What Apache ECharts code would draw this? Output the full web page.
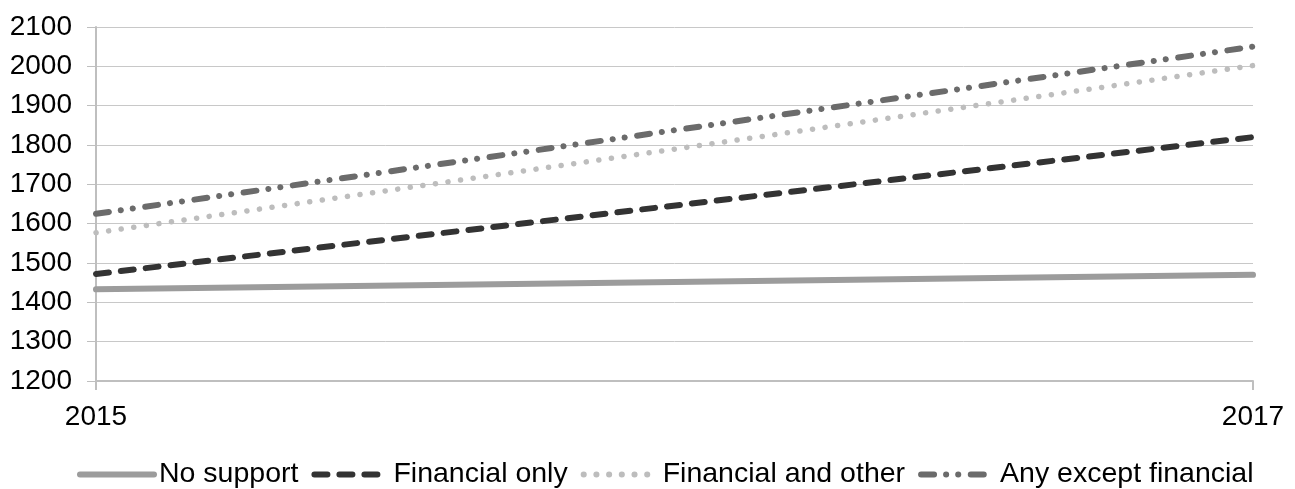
<!DOCTYPE html>
<html lang="en">

<head>
    <meta charset="utf-8">
    <style type="text/css">
    body {
        margin: 0;
        background-color: #fff
    }

    #echarts {
        width: 1295px;
        height: 489px;
    }
    </style>
</head>

<body>
    <div id="echarts"></div>
    <script type="text/javascript" src="https://cdn.jsdelivr.net/npm/echarts@6/dist/echarts.min.js"></script>
    <script type="text/javascript">
    var years = ['2015', '2017'];
    var noSupport = [1433, 1470];
    var financialOnly = [1472, 1820];
    var financialAndOther = [1577, 2002];
    var anyExceptFinancial = [1625, 2050];

    var myEcharts = echarts.init(document.getElementById('echarts'));

    var font = 'Liberation Sans, Arial, sans-serif';

    function mkSeries(name, data, color, width, dash) {
        return {
            name: name,
            type: 'line',
            data: data,
            symbol: 'none',
            animation: false,
            lineStyle: {
                color: color,
                width: width,
                type: dash,
                cap: 'round'
            },
            itemStyle: {
                color: color
            }
        };
    }

    var option = {
        textStyle: {
            fontFamily: font
        },
        grid: {
            left: 96,
            right: 42,
            top: 27,
            bottom: 108
        },
        legend: {
            top: 455,
            left: 72,
            itemWidth: 74,
            itemHeight: 14,
            itemGap: 13,
            itemStyle: {
                opacity: 0
            },
            lineStyle: {
                width: 6
            },
            textStyle: {
                fontSize: 28.5,
                color: '#000',
                fontFamily: font
            }
        },
        xAxis: {
            type: 'category',
            data: years,
            boundaryGap: false,
            axisLine: {
                lineStyle: {
                    color: '#bfbfbf',
                    width: 2
                }
            },
            axisTick: {
                length: 9,
                lineStyle: {
                    color: '#bfbfbf',
                    width: 2
                }
            },
            axisLabel: {
                fontSize: 28,
                color: '#000',
                margin: 22
            }
        },
        yAxis: {
            type: 'value',
            min: 1200,
            max: 2100,
            interval: 100,
            axisLine: {
                show: true,
                lineStyle: {
                    color: '#bfbfbf',
                    width: 2
                }
            },
            axisTick: {
                show: true,
                length: 9,
                lineStyle: {
                    color: '#bfbfbf'
                }
            },
            splitLine: {
                lineStyle: {
                    color: '#c8c8c8',
                    width: 1
                }
            },
            axisLabel: {
                fontSize: 28,
                color: '#000',
                margin: 24,
                formatter: function(v) {
                    return String(v);
                }
            }
        },
        series: [
            mkSeries('No support', noSupport, '#9c9c9c', 6, 'solid'),
            mkSeries('Financial only', financialOnly, '#333333', 6, [13, 12]),
            mkSeries('Financial and other', financialAndOther, '#bdbdbd', 5.5, [0.1, 12.6]),
            mkSeries('Any except financial', anyExceptFinancial, '#6b6b6b', 6, [13, 12, 0.1, 12, 0.1, 12.5])
        ]
    };
    myEcharts.setOption(option);
    </script>
</body>

</html>
